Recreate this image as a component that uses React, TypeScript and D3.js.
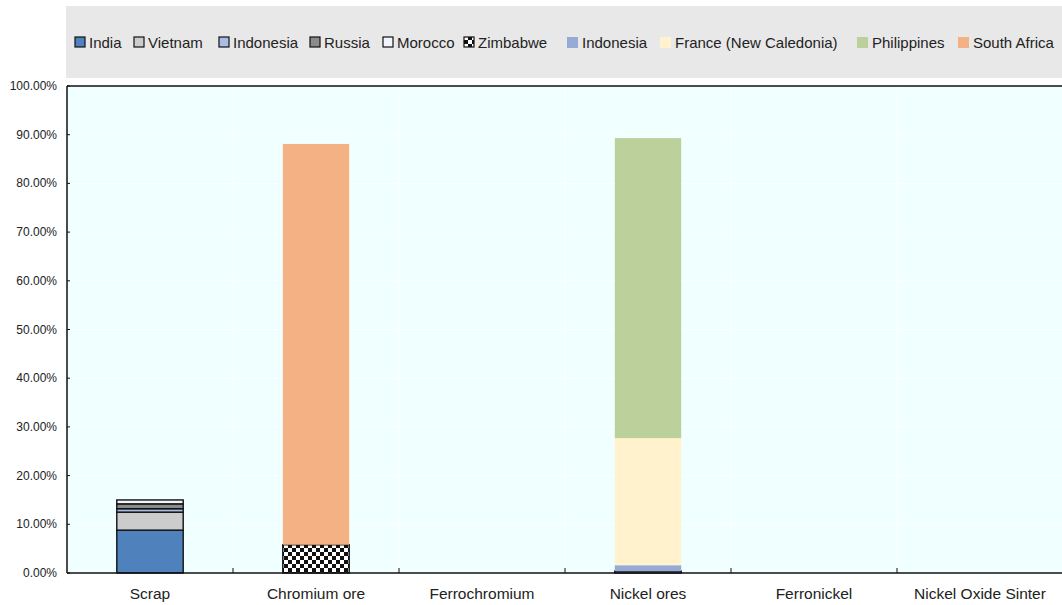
import React, { useEffect, useRef } from 'react';
import * as d3 from 'd3';

// categories along the x axis
const categories = ['Scrap', 'Chromium ore', 'Ferrochromium', 'Nickel ores', 'Ferronickel', 'Nickel Oxide Sinter'];

// series (stack order, bottom to top)
const seriesKeys = ['india', 'vietnam', 'indonesia', 'russia', 'morocco', 'zimbabwe', 'indonesia2', 'france', 'philippines', 'southAfrica'];
const seriesNames = ['India', 'Vietnam', 'Indonesia', 'Russia', 'Morocco', 'Zimbabwe', 'Indonesia', 'France (New Caledonia)', 'Philippines', 'South Africa'];

// shares in percent, one array per series, aligned with categories
const india = [8.8, 0, 0, 0, 0, 0];
const vietnam = [3.7, 0, 0, 0, 0, 0];
const indonesia = [0.7, 0, 0, 0.4, 0, 0];
const russia = [1.0, 0, 0, 0, 0, 0];
const morocco = [0.8, 0, 0, 0, 0, 0];
const zimbabwe = [0, 5.8, 0, 0, 0, 0];
const indonesia2 = [0, 0, 0, 1.2, 0, 0];
const france = [0, 0, 0, 26.1, 0, 0];
const philippines = [0, 0, 0, 61.6, 0, 0];
const southAfrica = [0, 82.3, 0, 0, 0, 0];

const yTicks = [0, 10, 20, 30, 40, 50, 60, 70, 80, 90, 100];

const colors: Record<string, string> = {
  india: '#4F81BD',
  vietnam: '#CCCCCC',
  indonesia: '#A9BCE6',
  russia: '#8C8C8C',
  morocco: '#F2F4FC',
  zimbabwe: 'url(#checker)',
  indonesia2: '#95ABD6',
  france: '#FFF2CC',
  philippines: '#BBD09A',
  southAfrica: '#F4B183',
};
const stroked = new Set(['india', 'vietnam', 'indonesia', 'russia', 'morocco', 'zimbabwe']);

// legend swatch x positions (layout only)
const legendX = [75, 134, 219, 310, 383, 464, 567, 660, 857, 958];

const W = 1062;
const H = 605;
const margin = { top: 86, right: 0, bottom: 32, left: 67 };

function App() {
  const svgRef = useRef<SVGSVGElement>(null);

  useEffect(() => {
    const svg = d3.select(svgRef.current);
    svg.selectAll('*').remove();
    const font = 'Arial, "Liberation Sans", sans-serif';

    const rows = categories.map((c, i) => ({
      category: c,
      india: india[i],
      vietnam: vietnam[i],
      indonesia: indonesia[i],
      russia: russia[i],
      morocco: morocco[i],
      zimbabwe: zimbabwe[i],
      indonesia2: indonesia2[i],
      france: france[i],
      philippines: philippines[i],
      southAfrica: southAfrica[i],
    }));

    const defs = svg.append('defs');
    const pat = defs
      .append('pattern')
      .attr('id', 'checker')
      .attr('patternUnits', 'userSpaceOnUse')
      .attr('width', 8)
      .attr('height', 8);
    pat.append('rect').attr('width', 8).attr('height', 8).attr('fill', '#fff');
    pat.append('rect').attr('width', 4).attr('height', 4).attr('fill', '#111');
    pat.append('rect').attr('x', 4).attr('y', 4).attr('width', 4).attr('height', 4).attr('fill', '#111');

    // legend band
    svg.append('rect').attr('x', 66).attr('y', 6).attr('width', W - 66).attr('height', 72).attr('fill', '#E8E8E8');

    const x = d3
      .scaleBand()
      .domain(categories)
      .range([margin.left, W + 1])
      .paddingInner(0.6)
      .paddingOuter(0.3);
    const y = d3
      .scaleLinear()
      .domain([0, 100])
      .range([H - margin.bottom, margin.top]);

    // plot background
    svg
      .append('rect')
      .attr('x', margin.left)
      .attr('y', margin.top)
      .attr('width', W - margin.left)
      .attr('height', y(0) - y(100))
      .attr('fill', '#F0FFFF');

    // gridlines
    svg
      .append('g')
      .selectAll('line')
      .data(yTicks.slice(1, -1))
      .join('line')
      .attr('x1', margin.left)
      .attr('x2', W)
      .attr('y1', (d) => y(d))
      .attr('y2', (d) => y(d))
      .attr('stroke', '#fff')
      .attr('stroke-width', 1);
    const step = x.step();
    const bounds = categories.slice(1).map((c) => (x(c) as number) - step * 0.3);
    svg
      .append('g')
      .selectAll('line')
      .data(bounds)
      .join('line')
      .attr('x1', (d) => d)
      .attr('x2', (d) => d)
      .attr('y1', y(100))
      .attr('y2', y(0))
      .attr('stroke', '#fff')
      .attr('stroke-width', 1);

    // bars
    const stack = d3.stack<any>().keys(seriesKeys);
    const layers = stack(rows);
    svg
      .append('g')
      .selectAll('g')
      .data(layers)
      .join('g')
      .each(function (layer) {
        const key = layer.key;
        d3.select(this)
          .selectAll('rect')
          .data(layer.filter((d) => d[1] - d[0] > 0))
          .join('rect')
          .attr('x', (d) => x(d.data.category) as number)
          .attr('width', x.bandwidth())
          .attr('y', (d) => y(d[1]))
          .attr('height', (d) => y(d[0]) - y(d[1]))
          .attr('fill', colors[key])
          .attr('stroke', stroked.has(key) ? '#111' : 'none')
          .attr('stroke-width', stroked.has(key) ? 1.4 : 0);
      });

    // axes lines
    svg
      .append('line')
      .attr('x1', margin.left)
      .attr('x2', W)
      .attr('y1', y(100))
      .attr('y2', y(100))
      .attr('stroke', '#111')
      .attr('stroke-width', 1.5);
    svg
      .append('line')
      .attr('x1', margin.left)
      .attr('x2', W)
      .attr('y1', y(0))
      .attr('y2', y(0))
      .attr('stroke', '#111')
      .attr('stroke-width', 1.5);
    svg
      .append('line')
      .attr('x1', margin.left)
      .attr('x2', margin.left)
      .attr('y1', y(100))
      .attr('y2', y(0))
      .attr('stroke', '#111')
      .attr('stroke-width', 1.5);

    // y ticks and labels
    const yg = svg.append('g');
    yg.selectAll('line')
      .data(yTicks)
      .join('line')
      .attr('x1', margin.left)
      .attr('x2', margin.left + 3)
      .attr('y1', (d) => y(d))
      .attr('y2', (d) => y(d))
      .attr('stroke', '#111');
    yg.selectAll('text')
      .data(yTicks)
      .join('text')
      .attr('x', 57)
      .attr('y', (d) => y(d) + 4)
      .attr('text-anchor', 'end')
      .attr('font-family', font)
      .attr('font-size', 12)
      .attr('fill', '#222')
      .text((d) => d.toFixed(2) + '%');

    // x ticks and labels
    const xg = svg.append('g');
    xg.selectAll('line')
      .data(bounds)
      .join('line')
      .attr('x1', (d) => d)
      .attr('x2', (d) => d)
      .attr('y1', y(0))
      .attr('y2', y(0) - 5)
      .attr('stroke', '#111');
    xg.selectAll('text')
      .data(categories)
      .join('text')
      .attr('x', (d) => (x(d) as number) + x.bandwidth() / 2)
      .attr('y', 599)
      .attr('text-anchor', 'middle')
      .attr('font-family', font)
      .attr('font-size', 15.5)
      .attr('fill', '#222')
      .text((d) => d);

    // legend
    const lg = svg.append('g');
    seriesKeys.forEach((key, i) => {
      const lx = legendX[i];
      const s = stroked.has(key);
      lg.append('rect')
        .attr('x', lx)
        .attr('y', 37)
        .attr('width', s ? 10 : 11)
        .attr('height', s ? 10 : 11)
        .attr('fill', colors[key])
        .attr('stroke', s ? '#111' : 'none')
        .attr('stroke-width', 1.2);
      lg.append('text')
        .attr('x', lx + (s ? 14 : 15))
        .attr('y', 48)
        .attr('font-family', font)
        .attr('font-size', 15)
        .attr('fill', '#222')
        .text(seriesNames[i]);
    });
  }, []);

  return (
    <div style={{ position: 'absolute', left: 0, top: 0 }}>
      <svg ref={svgRef} width={W} height={H} style={{ display: 'block', background: '#fff' }} />
    </div>
  );
}

export default App;
